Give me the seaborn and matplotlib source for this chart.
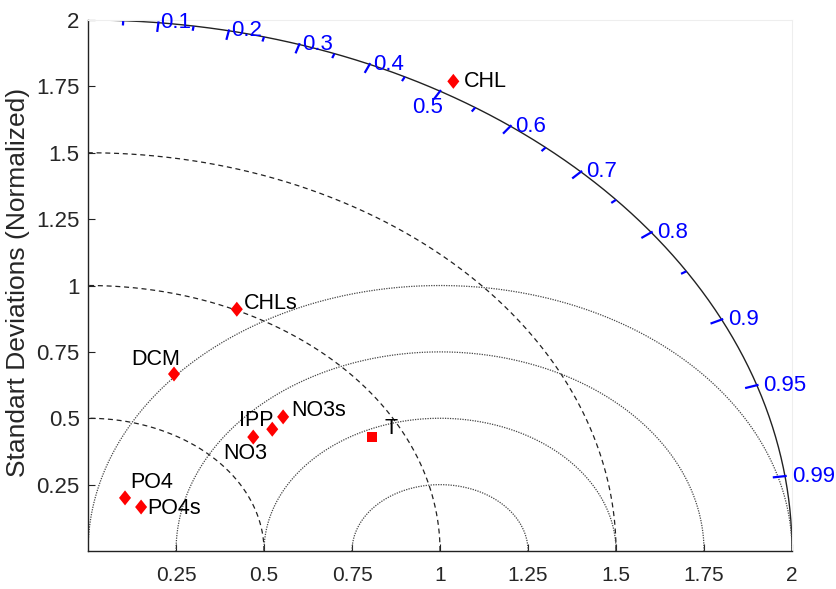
import numpy as np
import pandas as pd
import matplotlib
matplotlib.use("Agg")
import matplotlib.pyplot as plt
from matplotlib.path import Path
import seaborn as sns

# normalized std and correlation for each variable
names = ['CHL', 'CHLs', 'DCM', 'NO3s', 'IPP', 'NO3', 'T', 'PO4', 'PO4s']
std_norm = [2.051, 1.004, 0.710, 0.750, 0.696, 0.636, 0.914, 0.226, 0.224]
corr = [0.506, 0.421, 0.344, 0.739, 0.752, 0.738, 0.883, 0.465, 0.673]
shape = ['d', 'd', 'd', 'd', 'd', 'd', 's', 'd', 'd']

std_ticks = [0.25, 0.5, 0.75, 1, 1.25, 1.5, 1.75, 2]
corr_major = [0.1, 0.2, 0.3, 0.4, 0.5, 0.6, 0.7, 0.8, 0.9, 0.95, 0.99]
corr_minor = [0.05, 0.15, 0.25, 0.35, 0.45, 0.55, 0.65, 0.75, 0.85]
std_circles = [0.5, 1.0, 1.5]
rms_circles = [0.25, 0.5, 0.75, 1.0]
std_max = 2.0

# label offsets in pixels (dx, dy, ha)
label_pos = {
    'CHL': (11, 0, 'left'), 'CHLs': (7, 6, 'left'), 'DCM': (-18, 15, 'center'),
    'NO3s': (8, 6, 'left'), 'IPP': (1, 9, 'right'), 'NO3': (-8, -16, 'center'),
    'T': (12, 9, 'left'), 'PO4': (5, 15, 'left'), 'PO4s': (6, -1, 'left'),
}

df = pd.DataFrame({'name': names, 'std': std_norm, 'corr': corr, 'shape': shape})
theta = np.arccos(df['corr'])
df['x'] = df['std'] * np.cos(theta)
df['y'] = df['std'] * np.sin(theta)

sns.set_theme(style="white")
plt.rcParams['font.family'] = ['Liberation Sans', 'DejaVu Sans']

fig = plt.figure(figsize=(8.36, 5.89), dpi=100)
ax = fig.add_axes([0.1053, 0.0645, 0.8421, 0.9015])
ax.set_xlim(0, std_max)
ax.set_ylim(0, std_max)

t = np.linspace(0, np.pi / 2, 400)
# std circles (dashed)
for r in std_circles:
    ax.plot(r * np.cos(t), r * np.sin(t), color='#222222', lw=0.9,
            dashes=(4, 3))
# outer arc
ax.plot(std_max * np.cos(t), std_max * np.sin(t), color='#222222', lw=1.0)
# centred RMS arcs (dotted)
tt = np.linspace(0, np.pi, 600)
for r in rms_circles:
    xx = 1 + r * np.cos(tt)
    yy = r * np.sin(tt)
    keep = xx ** 2 + yy ** 2 <= std_max ** 2 + 1e-9
    ax.plot(xx[keep], yy[keep], color='#444444', lw=0.9, dashes=(1, 1))

# correlation ticks on outer arc
for c in corr_major:
    a = np.arccos(c)
    ax.plot([2.005 * np.cos(a), 1.965 * np.cos(a)],
            [2.005 * np.sin(a), 1.965 * np.sin(a)], color='blue', lw=1.6,
            solid_capstyle='butt')
    if c == 0.5:
        ax.text(1.93 * np.cos(a), 1.93 * np.sin(a), '0.5', color='blue',
                fontsize=16, ha='center', va='center')
    else:
        ax.annotate(f'{c:g}', (std_max * np.cos(a), std_max * np.sin(a)),
                    xytext=(1 + 6 * c, 0), textcoords='offset pixels',
                    color='blue', fontsize=16, ha='left', va='center',
                    annotation_clip=False)
for c in corr_minor:
    a = np.arccos(c)
    ax.plot([2.0 * np.cos(a), 1.982 * np.cos(a)],
            [2.0 * np.sin(a), 1.982 * np.sin(a)], color='blue', lw=1.6,
            solid_capstyle='butt')

diamond = Path([(0, 1), (0.8, 0), (0, -1), (-0.8, 0), (0, 1)],
               [Path.MOVETO, Path.LINETO, Path.LINETO, Path.LINETO, Path.CLOSEPOLY])
sns.scatterplot(data=df[df['shape'] == 'd'], x='x', y='y', marker=diamond,
                s=117, color='red', edgecolor='none', linewidth=0, ax=ax,
                clip_on=False, zorder=5)
sns.scatterplot(data=df[df['shape'] == 's'], x='x', y='y', marker='s',
                s=50, color='red', edgecolor='none', linewidth=0, ax=ax,
                clip_on=False, zorder=5)

for _, row in df.iterrows():
    dx, dy, ha = label_pos[row['name']]
    ax.annotate(row['name'], (row['x'], row['y']), xytext=(dx, dy),
                textcoords='offset pixels', fontsize=15.5, color='black',
                ha=ha, va='center')

ax.set_xticks(std_ticks)
ax.set_yticks(std_ticks)
ax.set_xticklabels([f'{v:g}' for v in std_ticks], fontsize=15)
ax.set_yticklabels([f'{v:g}' for v in std_ticks], fontsize=16)
ax.tick_params(direction='in', length=5, width=0.8, color='#222222',
               labelcolor='#262626', left=True, bottom=True)
ax.tick_params(axis='x', pad=11)
ax.tick_params(axis='y', pad=6)
ax.set_xlabel('')
ax.set_ylabel('Standart Deviations (Normalized)', fontsize=19, color='#262626')
ax.yaxis.set_label_coords(-0.082, 0.505)

for side in ['left', 'bottom']:
    ax.spines[side].set_color('#222222')
    ax.spines[side].set_linewidth(1.0)
for side in ['top', 'right']:
    ax.spines[side].set_color('#eeeeee')
    ax.spines[side].set_linewidth(0.8)

fig.savefig('out.png', dpi=100, facecolor='white')
